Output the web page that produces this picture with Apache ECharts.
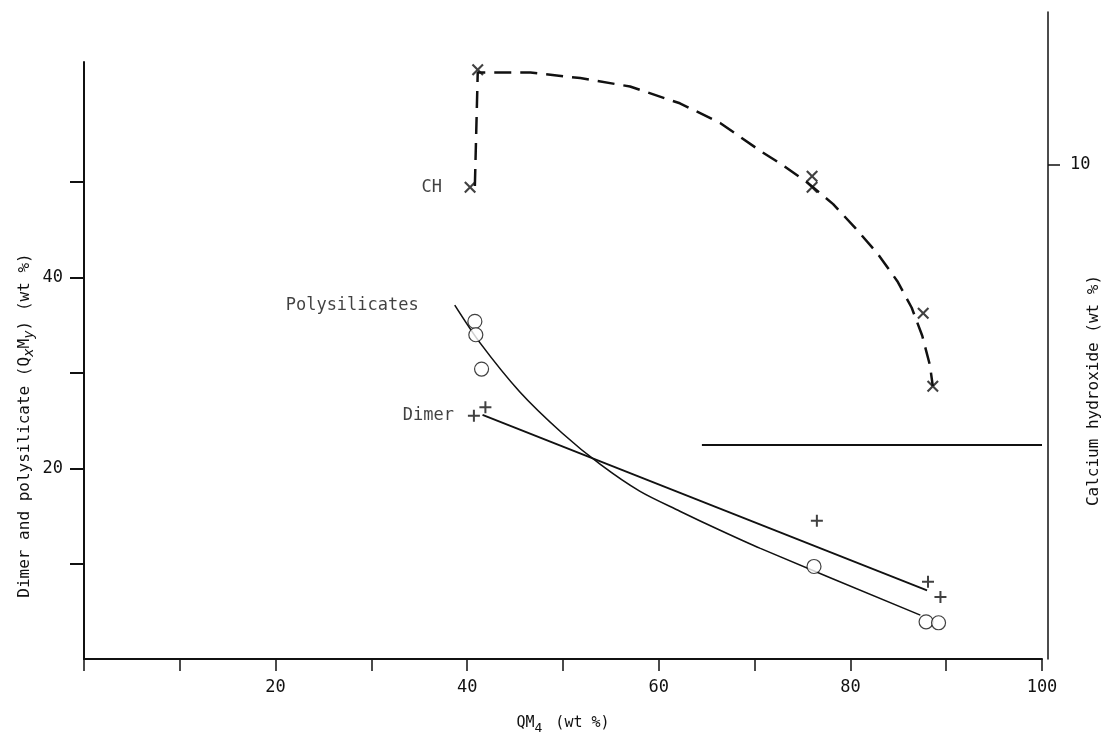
<!DOCTYPE html>
<html>
<head>
<meta charset="utf-8">
<script src="https://cdn.jsdelivr.net/npm/echarts@6/dist/echarts.min.js"></script>
<style>
  html, body { margin: 0; padding: 0; background: #fff; }
  #chart { width: 1112px; height: 737px; }
</style>
</head>
<body>
<div id="chart"></div>
<script>
// measured points  [QM4 wt%, value]
var polyPoints = [[40.8, 35.4], [40.9, 34.0], [41.5, 30.4], [76.2, 9.7], [87.9, 3.9], [89.2, 3.8]];
var dimerPoints = [[40.7, 25.5], [41.9, 26.4], [76.5, 14.5], [88.1, 8.1], [89.4, 6.5]];
var chPoints = [[40.3, 9.2], [41.1, 13.4], [76.0, 9.6], [76.0, 9.2], [87.6, 4.7], [88.6, 2.1]];

// fitted curves
var polyFit = [[38.7, 37.1], [41.3, 33.2], [45.5, 28.0], [49.9, 23.7], [53.9, 20.4], [58.0, 17.6],
  [62.2, 15.5], [66.4, 13.5], [70.6, 11.6], [87.3, 4.6]];
var dimerFit = [[41.6, 25.6], [88.0, 7.2]];
var chFit = [[40.8, 9.25], [41.1, 13.3], [46.6, 13.3], [51.8, 13.1], [57.0, 12.8], [62.2, 12.2],
  [66.4, 11.5], [70.6, 10.5], [72.9, 10.0], [75.4, 9.4], [78.2, 8.6], [80.5, 7.75], [82.8, 6.85],
  [84.9, 5.85], [86.4, 4.9], [87.5, 3.9], [88.3, 2.85], [88.6, 2.1]];
var chBase = [[64.5, 0], [100, 0]];

var xLabels = [20, 40, 60, 80, 100];
var xTicks = [0, 10, 20, 30, 40, 50, 60, 70, 80, 90, 100];
var yLabels = [20, 40];
var yTicks = [10, 20, 30, 40, 50];
var chLabels = [10];

var font = "'DejaVu Sans Mono', 'Liberation Mono', monospace";
var ink = '#111';

var plusPath = 'path://M5,0 L7,0 L7,5 L12,5 L12,7 L7,7 L7,12 L5,12 L5,7 L0,7 L0,5 L5,5 Z';
var crossPath = 'path://M0,1.5 L1.5,0 L6,4.5 L10.5,0 L12,1.5 L7.5,6 L12,10.5 L10.5,12 L6,7.5 L1.5,12 L0,10.5 L4.5,6 Z';

function txt(size) {
  return { fontSize: size, color: ink, fontFamily: font };
}

var chart = echarts.init(document.getElementById('chart'));

var option = {
  animation: false,
  backgroundColor: '#fff',
  textStyle: { fontFamily: font, color: ink },
  grid: [
    { left: 84, right: 70, top: 62, bottom: 78, outerBoundsMode: 'none' },
    { left: 84, right: 70, top: 12, bottom: 78, outerBoundsMode: 'none' }
  ],
  xAxis: [{
    gridIndex: 0,
    type: 'value',
    min: 0, max: 100, interval: 10,
    name: '{a|QM}{s|4}{a| (wt %)}',
    nameLocation: 'middle',
    nameGap: 53,
    nameMoveOverlap: false,
    nameTextStyle: {
      rich: {
        a: txt(15),
        s: Object.assign(txt(13), { padding: [10, 4, 0, 0] })
      }
    },
    axisLine: { onZero: false, lineStyle: { color: ink, width: 2 } },
    axisTick: { customValues: xTicks, length: 12, lineStyle: { color: ink, width: 1.5 } },
    axisLabel: Object.assign(txt(17), { customValues: xLabels, margin: 20 }),
    splitLine: { show: false }
  }, {
    gridIndex: 1,
    type: 'value',
    min: 0, max: 100,
    show: false
  }],
  yAxis: [{
    gridIndex: 0,
    type: 'value',
    min: 0, max: 62.6, interval: 10,
    name: 'Dimer and polysilicate {a|(Q}{s|x}{a|M}{s|y}{a|)} (wt %)',
    nameLocation: 'middle',
    nameRotate: 90,
    nameGap: 48,
    nameMoveOverlap: false,
    nameTextStyle: Object.assign(txt(16), {
      padding: [0, 130, 0, 0],
      rich: {
        a: txt(16),
        s: Object.assign(txt(14), { fontStyle: 'italic', padding: [8, 0, 0, 0] })
      }
    }),
    axisLine: { onZero: false, lineStyle: { color: ink, width: 2 } },
    axisTick: { customValues: yTicks, length: 14, lineStyle: { color: ink, width: 2 } },
    axisLabel: Object.assign(txt(17), { customValues: yLabels, margin: 21 }),
    splitLine: { show: false }
  }, {
    gridIndex: 1,
    type: 'value',
    position: 'right',
    offset: 6,
    min: -7.64, max: 15.46,
    name: 'Calcium hydroxide (wt %)',
    nameLocation: 'middle',
    nameRotate: 90,
    nameGap: 38,
    nameMoveOverlap: false,
    nameTextStyle: Object.assign(txt(16), { padding: [0, 110, 0, 0] }),
    axisLine: { show: true, onZero: false, lineStyle: { color: ink, width: 1.5 } },
    axisTick: { customValues: chLabels, length: 12, lineStyle: { color: ink, width: 1.5 } },
    axisLabel: Object.assign(txt(17), { customValues: chLabels, margin: 22 }),
    splitLine: { show: false }
  }],
  series: [{
    name: 'Polysilicates fit',
    type: 'line',
    data: polyFit,
    smooth: 0.3,
    symbol: 'none',
    lineStyle: { color: ink, width: 1.6 }
  }, {
    name: 'Polysilicates label',
    type: 'scatter',
    data: polyFit.slice(0, 1),
    symbolSize: 0,
    label: Object.assign(txt(17), { show: true, position: 'left', distance: 36, formatter: 'Polysilicates' })
  }, {
    name: 'Dimer fit',
    type: 'line',
    data: dimerFit,
    symbol: 'none',
    lineStyle: { color: ink, width: 1.8 }
  }, {
    name: 'Polysilicates',
    type: 'scatter',
    data: polyPoints,
    symbol: 'circle',
    symbolSize: 14,
    itemStyle: { color: '#fff', borderColor: ink, borderWidth: 1.2 },
    z: 4
  }, {
    name: 'Dimer',
    type: 'scatter',
    data: dimerPoints.map(function (p, i) {
      return i === 0 ? { value: p, label: Object.assign(txt(17), { show: true, position: 'left', distance: 14, formatter: 'Dimer' }) } : p;
    }),
    symbol: plusPath,
    symbolSize: 12,
    itemStyle: { color: ink },
    z: 4
  }, {
    name: 'CH fit',
    type: 'line',
    xAxisIndex: 1, yAxisIndex: 1,
    data: chFit,
    symbol: 'none',
    lineStyle: { color: ink, width: 2.5, type: [17, 9] }
  }, {
    name: 'CH',
    type: 'scatter',
    xAxisIndex: 1, yAxisIndex: 1,
    data: chPoints.map(function (p, i) {
      return i === 0 ? { value: p, label: Object.assign(txt(17), { show: true, position: 'left', distance: 22, formatter: 'CH' }) } : p;
    }),
    symbol: crossPath,
    symbolSize: 12,
    itemStyle: { color: ink },
    z: 5
  }, {
    name: 'CH base',
    type: 'line',
    xAxisIndex: 1, yAxisIndex: 1,
    data: chBase,
    symbol: 'none',
    lineStyle: { color: ink, width: 2 }
  }]
};

chart.setOption(option);
</script>
</body>
</html>
